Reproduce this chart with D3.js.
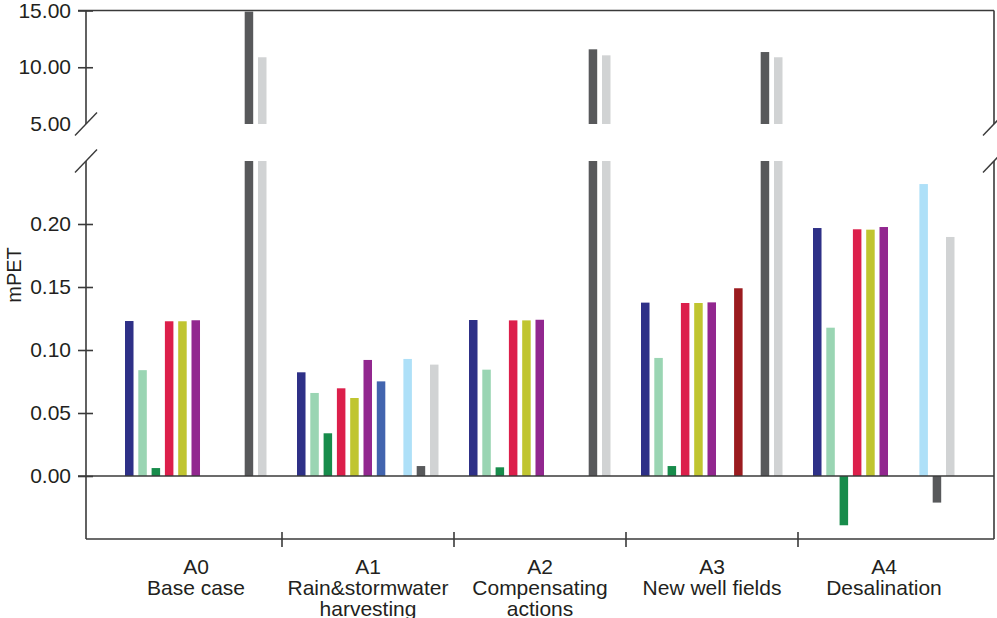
<!DOCTYPE html>
<html>
<head>
<meta charset="utf-8">
<script src="https://cdn.jsdelivr.net/npm/d3@7"></script>
<style>
  html, body { margin: 0; padding: 0; background: #fff; }
  svg text { font-family: "Liberation Sans", Arial, Helvetica, sans-serif; fill: #231f20; }
</style>
</head>
<body>
<svg id="chart" width="997" height="618"></svg>
<script>
// Alternatives (x categories)
const categories = ["A0", "A1", "A2", "A3", "A4"];
const categoryNames = [
  ["A0", "Base case"],
  ["A1", "Rain&stormwater", "harvesting"],
  ["A2", "Compensating", "actions"],
  ["A3", "New well fields"],
  ["A4", "Desalination"]
];

// mPET per impact series, one value per alternative (null = not shown)
const sDarkBlue  = [0.1230, 0.0823, 0.1238, 0.1376, 0.1968];
const sMint      = [0.0840, 0.0659, 0.0844, 0.0937, 0.1177];
const sGreen     = [0.0063, 0.0339, 0.0069, 0.0079, -0.0391];
const sRed       = [0.1228, 0.0696, 0.1235, 0.1373, 0.1958];
const sOlive     = [0.1228, 0.0619, 0.1235, 0.1373, 0.1955];
const sPurple    = [0.1236, 0.0921, 0.1240, 0.1378, 0.1976];
const sSteel     = [null,   0.0751, null,   null,   null];
const sDarkRed   = [null,   null,   null,   0.1490, null];
const sSky       = [null,   0.0929, null,   null,   0.2317];
const sDarkGray  = [14.90,  0.0079, 11.58,  11.34, -0.0211];
const sLightGray = [10.88,  0.0884, 11.05,  10.88,  0.1897];

const seriesValues = [sDarkBlue, sMint, sGreen, sRed, sOlive, sPurple,
                      sSteel, sDarkRed, sSky, sDarkGray, sLightGray];
const seriesColors = ["#2e3087", "#9ad5b3", "#178c4b", "#dc1f4b", "#c0c530", "#92278f",
                      "#4264ae", "#9b1b1f", "#aee0f8", "#58595b", "#d1d3d4"];

// Tick values for the two panels of the broken axis
const upperTicks = [5, 10, 15];
const lowerTicks = [0, 0.05, 0.10, 0.15, 0.20];

const svg = d3.select("#chart");
const axisColor = "#3a3a3a";

const xLeft = 86, xRight = 994;
const x0 = d3.scaleBand().domain(categories).range([110, 970]).padding(0);
const x1 = d3.scaleBand().domain(d3.range(seriesValues.length))
  .range([15, 15 + 11 * 13.3 - 4.8]).paddingInner(0.36).paddingOuter(0);

const yUp = d3.scaleLinear().domain([5, 15]).range([124, 10.5]);
const yLo = d3.scaleLinear().domain([-0.05, 0.25]).range([539, 161]);

// Flatten to bar records
const bars = [];
seriesValues.forEach((vals, si) => {
  vals.forEach((v, ci) => {
    if (v === null) return;
    bars.push({ cat: categories[ci], s: si, v: v });
  });
});

const barX = d => x0(d.cat) + x1(d.s);

// Lower panel bars (clipped at the panel top)
svg.append("g").selectAll("rect").data(bars).join("rect")
  .attr("x", barX)
  .attr("width", x1.bandwidth())
  .attr("y", d => yLo(Math.min(Math.max(d.v, 0), 0.25)))
  .attr("height", d => Math.abs(yLo(Math.min(d.v, 0.25)) - yLo(0)))
  .attr("fill", d => seriesColors[d.s]);

// Upper panel bars for values above the break
svg.append("g").selectAll("rect").data(bars.filter(d => d.v > 5)).join("rect")
  .attr("x", barX)
  .attr("width", x1.bandwidth())
  .attr("y", d => yUp(Math.min(d.v, 15)))
  .attr("height", d => yUp(5) - yUp(Math.min(d.v, 15)))
  .attr("fill", d => seriesColors[d.s]);

// Frame lines
const frame = svg.append("g").attr("stroke", axisColor).attr("stroke-width", 1.6).attr("fill", "none");
frame.append("line").attr("x1", xLeft - 8).attr("x2", xRight).attr("y1", yUp(15)).attr("y2", yUp(15));
frame.append("line").attr("x1", xLeft).attr("x2", xLeft).attr("y1", yUp(15)).attr("y2", yUp(5));
frame.append("line").attr("x1", xRight).attr("x2", xRight).attr("y1", yUp(15)).attr("y2", yUp(5));
frame.append("line").attr("x1", xLeft).attr("x2", xLeft).attr("y1", yLo(0.25)).attr("y2", yLo(-0.05));
frame.append("line").attr("x1", xRight).attr("x2", xRight).attr("y1", yLo(0.25)).attr("y2", yLo(-0.05));
frame.append("line").attr("x1", xLeft).attr("x2", xRight).attr("y1", yLo(-0.05)).attr("y2", yLo(-0.05));
frame.append("line").attr("x1", xLeft - 8).attr("x2", xRight).attr("y1", yLo(0)).attr("y2", yLo(0));

// Break marks
[xLeft, xRight].forEach(bx => {
  [yUp(5), yLo(0.25)].forEach(by => {
    frame.append("line")
      .attr("x1", bx - 11).attr("y1", by + 11.5)
      .attr("x2", bx + 11).attr("y2", by - 11.5)
      .attr("stroke-width", 1.4);
  });
});

// Y axes
function styleAxis(g, hideAt) {
  g.select(".domain").remove();
  g.selectAll(".tick line")
    .attr("x1", 7).attr("x2", -8)
    .attr("stroke", axisColor).attr("stroke-width", 1.6)
    .attr("display", d => hideAt.includes(d) ? "none" : null);
  g.selectAll(".tick text")
    .attr("x", -15)
    .style("font-size", "21px")
    .attr("fill", "#231f20");
}
svg.append("g").attr("transform", `translate(${xLeft},0)`)
  .call(d3.axisLeft(yUp).tickValues(upperTicks).tickFormat(d3.format(".2f")).tickSize(8))
  .call(g => styleAxis(g, [5]));
svg.append("g").attr("transform", `translate(${xLeft},0)`)
  .call(d3.axisLeft(yLo).tickValues(lowerTicks).tickFormat(d3.format(".2f")).tickSize(8))
  .call(g => styleAxis(g, []));

// Y title
svg.append("text")
  .attr("transform", "translate(21,275) rotate(-90)")
  .attr("text-anchor", "middle")
  .style("font-size", "20px")
  .text("mPET");

// Category separators on the x axis
svg.append("g").selectAll("line").data(categories.slice(1)).join("line")
  .attr("x1", d => x0(d)).attr("x2", d => x0(d))
  .attr("y1", yLo(-0.05) - 7).attr("y2", yLo(-0.05) + 8)
  .attr("stroke", axisColor).attr("stroke-width", 1.6);

// Category labels
const lab = svg.append("g").selectAll("text").data(categories).join("text")
  .attr("text-anchor", "middle")
  .style("font-size", "21px")
  .attr("x", d => x0(d) + x0.bandwidth() / 2)
  .attr("y", 574);
lab.each(function(d, i) {
  const t = d3.select(this);
  categoryNames[i].forEach((line, li) => {
    t.append("tspan")
      .attr("x", x0(d) + x0.bandwidth() / 2)
      .attr("dy", li === 0 ? 0 : 21)
      .text(line);
  });
});
</script>
</body>
</html>
